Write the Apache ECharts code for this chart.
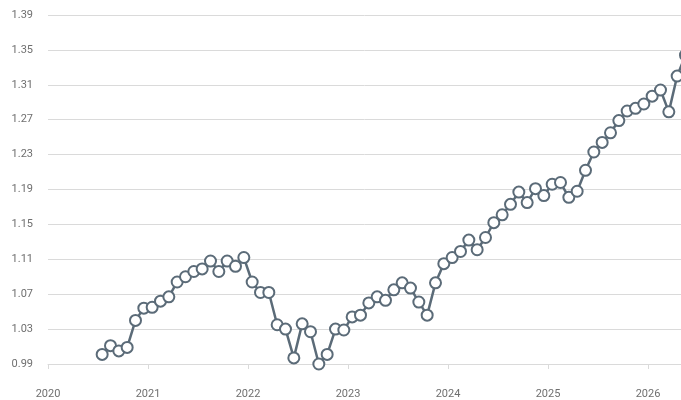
<!DOCTYPE html>
<html><head><meta charset="utf-8">
<script src="https://cdn.jsdelivr.net/npm/echarts@6/dist/echarts.min.js"></script>
<style>html,body{margin:0;padding:0;background:#fff}#c{width:681px;height:400px}</style>
</head><body><div id="c"></div>
<script>
const months = [
  '2020-07','2020-08','2020-09','2020-10','2020-11','2020-12',
  '2021-01','2021-02','2021-03','2021-04','2021-05','2021-06','2021-07','2021-08','2021-09','2021-10','2021-11','2021-12',
  '2022-01','2022-02','2022-03','2022-04','2022-05','2022-06','2022-07','2022-08','2022-09','2022-10','2022-11','2022-12',
  '2023-01','2023-02','2023-03','2023-04','2023-05','2023-06','2023-07','2023-08','2023-09','2023-10','2023-11','2023-12',
  '2024-01','2024-02','2024-03','2024-04','2024-05','2024-06','2024-07','2024-08','2024-09','2024-10','2024-11','2024-12',
  '2025-01','2025-02','2025-03','2025-04','2025-05','2025-06','2025-07','2025-08','2025-09','2025-10','2025-11','2025-12',
  '2026-01','2026-02','2026-03','2026-04','2026-05'
];
const values = [
  1.001,1.011,1.005,1.009,1.040,1.054,
  1.055,1.062,1.067,1.084,1.090,1.096,1.099,1.108,1.096,1.108,1.102,1.112,
  1.084,1.072,1.072,1.035,1.030,0.997,1.036,1.027,0.990,1.001,1.030,1.029,
  1.044,1.046,1.060,1.067,1.063,1.075,1.083,1.077,1.061,1.046,1.083,1.105,
  1.112,1.119,1.132,1.121,1.135,1.152,1.161,1.173,1.187,1.175,1.191,1.183,
  1.196,1.198,1.181,1.188,1.212,1.233,1.244,1.255,1.269,1.280,1.283,1.288,
  1.297,1.304,1.279,1.320,1.344
];
const yearTicks = [2020, 2021, 2022, 2023, 2024, 2025, 2026];

function toYear(s) { return +s.slice(0, 4) + (+s.slice(5, 7) - 0.5) / 12; }
const data = months.map((m, i) => [toYear(m), values[i]]);

const chart = echarts.init(document.getElementById('c'), null, {renderer: 'canvas'});
const gray = '#dadada';
chart.setOption({
  animation: false,
  backgroundColor: '#fff',
  grid: {left: 48, right: 0, top: 15, bottom: 35, containLabel: false},
  xAxis: {
    type: 'value', min: 2020, max: 2026.33, interval: 1,
    splitLine: {show: false},
    axisLine: {show: true, lineStyle: {color: gray, width: 1}},
    axisTick: {show: true, length: 5, lineStyle: {color: gray}},
    axisLabel: {
      color: '#6f6f6f', fontSize: 11, fontFamily: 'Roboto', margin: 25,
      showMaxLabel: false,
      formatter: v => (yearTicks.indexOf(Math.round(v)) >= 0 && Math.abs(v - Math.round(v)) < 1e-6) ? String(Math.round(v)) : ''
    }
  },
  yAxis: {
    type: 'value', min: 0.99, max: 1.39, interval: 0.04,
    axisLine: {show: false}, axisTick: {show: false},
    splitLine: {show: true, lineStyle: {color: gray, width: 1}},
    axisLabel: {color: '#6f6f6f', fontSize: 11, fontFamily: 'Roboto', margin: 15, formatter: v => v.toFixed(2)}
  },
  series: [{
    type: 'line', data: data, clip: false, showAllSymbol: true,
    symbol: 'emptyCircle', symbolSize: 11,
    lineStyle: {color: '#5b6b78', width: 2.5},
    itemStyle: {color: '#5b6b78', borderColor: '#5b6b78', borderWidth: 2.6}
  }]
});
</script>
</body></html>
